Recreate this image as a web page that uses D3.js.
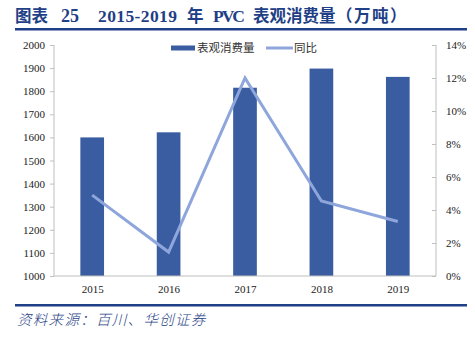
<!DOCTYPE html>
<html><head><meta charset="utf-8">
<script src="https://cdn.jsdelivr.net/npm/d3@7"></script>
<style>body{margin:0;background:#fff}svg{display:block}</style>
</head><body>
<script>
const years = ["2015","2016","2017","2018","2019"];
const consumption = [1600, 1622, 1815, 1898, 1862];
const yoy = [4.9, 1.45, 12.0, 4.55, 3.3];
const leftTicks = [1000,1100,1200,1300,1400,1500,1600,1700,1800,1900,2000];
const rightTicks = [0,2,4,6,8,10,12,14];
const titleParts = ["图表", "25", "2015-2019", "年", "PVC", "表观消费量", "（万吨）"];
const sourceText = "资料来源：百川、华创证券";
const legendNames = ["表观消费量","同比"];

const W = 475, H = 338;
const svg = d3.select("body").append("svg").attr("width", W).attr("height", H);
const navy = "#1f3f86", barColor = "#3a5da1", lineColor = "#8ea6db", axisColor = "#bfbfbf";
const serif = "'Liberation Serif','Times New Roman',serif";
const cjk = "'Liberation Serif','Noto Sans CJK SC',serif";

const titleX = [15, 61, 98, 187, 213, 253, 336];
const titleLen = [null, null, 79, null, 32, null, null];
const titleSize = [16.5, 18, 17.5, 16.5, 17.5, 16.5, 16.5];
titleParts.forEach((p, i) => {
  const t = svg.append("text").attr("x", titleX[i]).attr("y", 22).attr("fill", navy)
    .attr("font-family", cjk).attr("font-weight", "bold")
    .attr("font-size", titleSize[i])
    .attr("letter-spacing", i === 6 ? 1.5 : 0).text(p);
  if (titleLen[i]) t.attr("textLength", titleLen[i]).attr("lengthAdjust", "spacing");
});
svg.append("rect").attr("x", 15).attr("y", 28).attr("width", 452).attr("height", 2.5).attr("fill", navy);
svg.append("rect").attr("x", 15).attr("y", 304).attr("width", 452).attr("height", 2.5).attr("fill", navy);
svg.append("text").attr("x", 17).attr("y", 325).attr("fill", navy)
  .attr("font-family", "'Noto Sans CJK SC',sans-serif").attr("font-style","italic").attr("font-weight", 300)
  .attr("font-size", 14.5).attr("letter-spacing", 1.3)
  .text(sourceText);

const x = d3.scaleBand().domain(years).range([54, 436]).paddingInner(0.69).paddingOuter(0.345);
const xc = d3.scalePoint().domain(years).range([54, 436]).padding(0.5);
const yL = d3.scaleLinear().domain([1000, 2000]).range([276, 45]);
const yR = d3.scaleLinear().domain([0, 14]).range([276, 45]);

// bars
svg.append("g").selectAll("rect").data(years).join("rect")
  .attr("x", d => x(d)).attr("width", x.bandwidth())
  .attr("y", (d,i) => yL(consumption[i])).attr("height", (d,i) => 276 - yL(consumption[i]))
  .attr("fill", barColor);

// line
svg.append("path").datum(yoy).attr("fill","none").attr("stroke", lineColor).attr("stroke-width", 3)
  .attr("stroke-linejoin","miter")
  .attr("d", d3.line().x((d,i) => xc(years[i])).y(d => yR(d)));

// left axis
const gL = svg.append("g").attr("transform","translate(54,0)")
  .call(d3.axisLeft(yL).tickValues(leftTicks).tickSize(4).tickPadding(5).tickFormat(d3.format("d")));
gL.select(".domain").attr("stroke", axisColor).attr("d","M0,45V276");
gL.selectAll(".tick line").attr("stroke", axisColor);
gL.selectAll("text").attr("font-family", serif).attr("font-size", 11).attr("fill", "#222");

// right axis
const gR = svg.append("g").attr("transform","translate(436,0)")
  .call(d3.axisRight(yR).tickValues(rightTicks).tickSize(0).tickPadding(10).tickFormat(d => d + "%"));
gR.select(".domain").attr("stroke", axisColor).attr("d","M0,45V276");
gR.selectAll(".tick").append("line").attr("x1",-4).attr("x2",0).attr("stroke", axisColor);
gR.selectAll("text").attr("font-family", serif).attr("font-size", 11).attr("fill", "#222");

// bottom axis
const gB = svg.append("g").attr("transform","translate(0,276)")
  .call(d3.axisBottom(xc).tickSize(0).tickPadding(9));
gB.select(".domain").attr("stroke", axisColor).attr("d","M54,0H436");
gB.selectAll("text").attr("font-family", serif).attr("font-size", 11).attr("fill", "#222");

// legend
const lg = svg.append("g").attr("font-family","'Noto Sans CJK SC',sans-serif").attr("font-size", 11.5).attr("fill","#333");
lg.append("rect").attr("x",171).attr("y",45.5).attr("width",24).attr("height",5).attr("fill", barColor);
lg.append("text").attr("x",197).attr("y",52).text(legendNames[0]);
lg.append("line").attr("x1",266).attr("x2",293).attr("y1",48).attr("y2",48).attr("stroke",lineColor).attr("stroke-width",3);
lg.append("text").attr("x",294).attr("y",52).text(legendNames[1]);
</script>
</body></html>
